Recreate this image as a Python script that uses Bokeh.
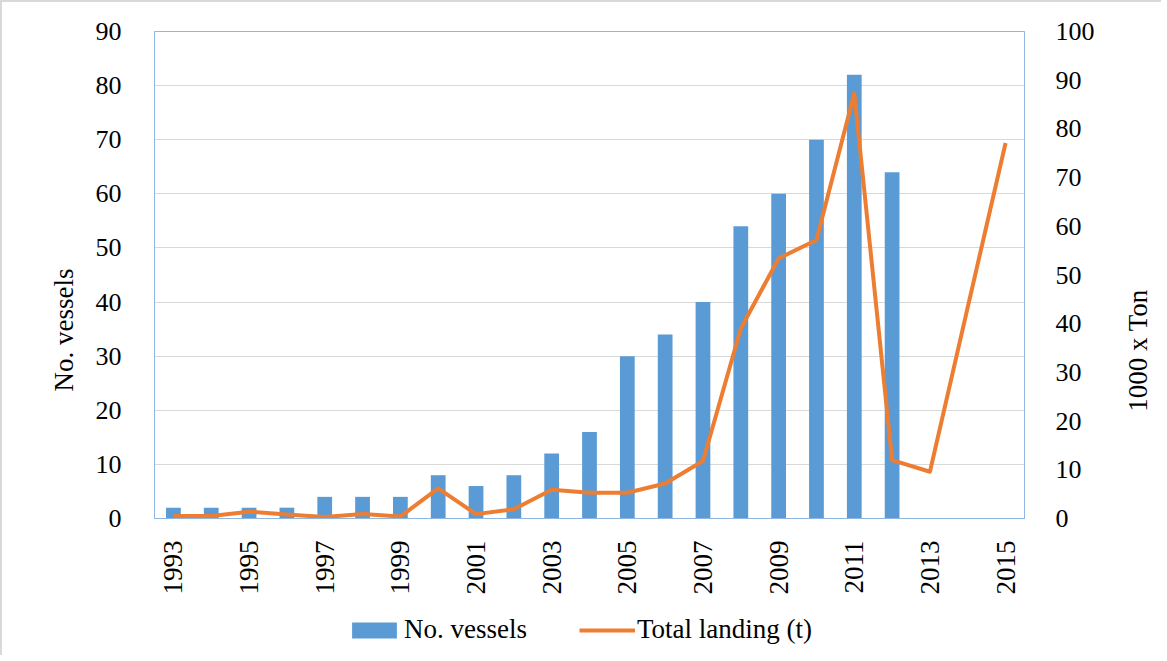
import math
from bokeh.plotting import figure
from bokeh.layouts import column, row
from bokeh.models import (Range1d, LinearAxis, FixedTicker, Legend, LegendItem,
                          Title, Label, ColumnDataSource)
from bokeh.embed import file_html
from bokeh.resources import INLINE

# ---- data ----
bar_years = [1993, 1994, 1995, 1996, 1997, 1998, 1999, 2000, 2001, 2002,
             2003, 2004, 2005, 2006, 2007, 2008, 2009, 2010, 2011, 2012]
vessels = [2, 2, 2, 2, 4, 4, 4, 8, 6, 8, 12, 16, 30, 34, 40, 54, 60, 70, 82, 64]

line_years = [1993, 1994, 1995, 1996, 1997, 1998, 1999, 2000, 2001, 2002,
              2003, 2004, 2005, 2006, 2007, 2008, 2009, 2010, 2011, 2012,
              2013, 2014, 2015]
landing = [0.5, 0.5, 1.4, 0.8, 0.3, 0.9, 0.4, 6.2, 0.9, 1.9,
           5.9, 5.3, 5.3, 7.2, 11.8, 39.0, 53.4, 57.2, 87.3, 12.0,
           9.6, 43.4, 77.1]

x_ticks = [1993, 1995, 1997, 1999, 2001, 2003, 2005, 2007, 2009, 2011, 2013, 2015]
left_ticks = [0, 10, 20, 30, 40, 50, 60, 70, 80, 90]
right_ticks = [0, 10, 20, 30, 40, 50, 60, 70, 80, 90, 100]

FONT = "Liberation Serif"
BLUE = "#5b9bd5"
ORANGE = "#ed7d31"
FRAME = "#8fb6e3"

H_MAIN = 602
W_MAIN = 1110
p = figure(width=W_MAIN, height=H_MAIN, output_backend="svg", toolbar_location=None,
           x_range=Range1d(1992.5, 2015.5), y_range=Range1d(0, 90),
           min_border_left=152, min_border_right=88,
           min_border_top=29, min_border_bottom=86)
p.extra_y_ranges = {"right": Range1d(0, 100)}

p.outline_line_color = FRAME
p.outline_line_width = 1
p.background_fill_color = "white"
p.border_fill_color = "white"

src_b = ColumnDataSource(dict(x=bar_years, top=vessels))
bars = p.vbar(x="x", top="top", width=0.39, bottom=0, source=src_b,
              fill_color=BLUE, line_color=None)
src_l = ColumnDataSource(dict(x=line_years, y=landing))
ln = p.line(x="x", y="y", source=src_l, y_range_name="right",
            line_color=ORANGE, line_width=4, line_join="round")

# axes
xa = p.xaxis[0]
xa.ticker = FixedTicker(ticks=x_ticks)
xa.major_label_orientation = math.pi / 2
xa.major_label_text_font = FONT
xa.major_label_text_font_size = "27px"
xa.major_label_text_color = "black"
xa.major_tick_line_color = None
xa.minor_tick_line_color = None
xa.axis_line_color = FRAME
xa.major_label_standoff = 16

ya = p.yaxis[0]
ya.ticker = FixedTicker(ticks=left_ticks)
ya.major_label_text_font = FONT
ya.major_label_text_font_size = "26px"
ya.major_label_text_color = "black"
ya.major_tick_line_color = None
ya.minor_tick_line_color = None
ya.axis_line_color = FRAME
ya.major_label_standoff = 27

ra = LinearAxis(y_range_name="right", ticker=FixedTicker(ticks=right_ticks))
ra.major_label_text_font = FONT
ra.major_label_text_font_size = "26px"
ra.major_label_text_color = "black"
ra.major_tick_line_color = None
ra.minor_tick_line_color = None
ra.axis_line_color = FRAME
ra.major_label_standoff = 25
p.add_layout(ra, "right")

p.xgrid.grid_line_color = None
p.ygrid.grid_line_color = "#d9d9d9"
p.ygrid.grid_line_width = 1
p.ygrid.ticker = FixedTicker(ticks=left_ticks)

# left axis title
p.add_layout(Title(text="No. vessels", align="left", offset=127, standoff=27,
                   text_font=FONT, text_font_size="27px", text_font_style="normal",
                   text_color="black"), "left")

# right axis title in a narrow strip figure
rs = figure(width=1159 - W_MAIN, height=H_MAIN, output_backend="svg",
            toolbar_location=None, x_range=Range1d(0, 1), y_range=Range1d(0, 1),
            min_border=0, outline_line_color=None,
            x_axis_location=None, y_axis_location=None)
rs.grid.visible = False
rs.add_layout(Label(x=25, y=168, x_units="screen", y_units="screen",
                    text="1000 x Ton", angle=math.pi / 2,
                    text_align="center", text_baseline="middle",
                    text_font=FONT, text_font_size="27px", text_color="black"))

# legend in a strip figure below (renderers use the same data, kept out of view)
lf = figure(width=1159, height=653 - H_MAIN, output_backend="svg",
            toolbar_location=None, x_range=Range1d(0, 1), y_range=Range1d(0, 1),
            min_border=0, outline_line_color=None,
            x_axis_location=None, y_axis_location=None)
lf.grid.visible = False
lb = lf.vbar(x="x", top="top", width=0.39, source=src_b,
             fill_color=BLUE, line_color=None)
ll = lf.line(x="x", y="y", source=src_l, line_color=ORANGE, line_width=4)
legend = Legend(items=[LegendItem(label="No. vessels", renderers=[lb]),
                       LegendItem(label="Total landing (t)", renderers=[ll])],
                orientation="horizontal", location=(344, 10),
                glyph_width=56, glyph_height=20, label_standoff=2, spacing=52,
                label_text_font=FONT, label_text_font_size="27px",
                label_text_color="black", border_line_color=None,
                background_fill_alpha=0, padding=0, margin=0)
lf.add_layout(legend, "center")

layout = column(row(p, rs, spacing=0), lf, spacing=0)
layout.styles = {"border-left": "2px solid #d9d9d9", "border-top": "2px solid #d9d9d9"}

open("out.html", "w").write(file_html(layout, INLINE))
